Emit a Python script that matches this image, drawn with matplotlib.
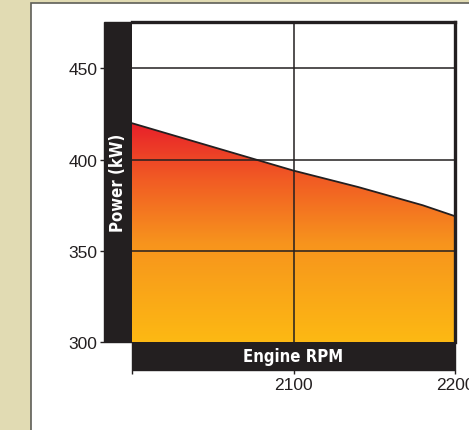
#!/usr/bin/env python3
import matplotlib
matplotlib.use("Agg")
import matplotlib.pyplot as plt
import numpy as np
from matplotlib.colors import LinearSegmentedColormap
from matplotlib.patches import Rectangle

rpm = [2000, 2025, 2050, 2075, 2100, 2120, 2140, 2160, 2180, 2200]
power = [420, 413.5, 407, 400.5, 394, 389.5, 385, 380, 375, 369]
y_ticks = [300, 350, 400, 450]
x_ticks = [2000, 2100, 2200]
x_ticklabels = ["", "2100", "2200"]

DARK = "#231f20"
W, H = 469, 431
PX = 72 / 100  # points per pixel


def figbox(x0, y0, x1, y1):
    # pixel box (from top-left) -> figure fraction [left, bottom, width, height]
    return [x0 / W, 1 - y1 / H, (x1 - x0) / W, (y1 - y0) / H]


fig = plt.figure(figsize=(W / 100, H / 100), dpi=100)
fig.patch.set_facecolor("#e1dbb3")

# white panel
fig.patches.append(Rectangle((31 / W, -0.01), 1, 1.01 - 4 / H, transform=fig.transFigure,
                             facecolor="white", edgecolor="#5f5f58", lw=1.2, zorder=-10))

# black label bars
fig.patches.append(Rectangle((104 / W, 1 - 343 / H), 28 / W, 320 / H,
                             transform=fig.transFigure, color=DARK, zorder=-5))
fig.patches.append(Rectangle((132 / W, 1 - 371 / H), 323 / W, 28 / H,
                             transform=fig.transFigure, color=DARK, zorder=-5))

ax = fig.add_axes(figbox(132, 23, 455, 343))
ax.set_facecolor("white")

# gradient fill under the curve
cmap = LinearSegmentedColormap.from_list(
    "heat", [(0.0, "#fdb913"), (0.45, "#f7941d"), (0.75, "#f15a24"), (1.0, "#e8202a")])
grad = np.linspace(0, 1, 256).reshape(-1, 1)
poly = ax.fill_between(rpm, power, 300, color="none", lw=0)
img = ax.imshow(grad, cmap=cmap, origin="lower", aspect="auto",
                extent=[2000, 2200, 300, max(power)], zorder=1)
img.set_clip_path(poly.get_paths()[0], transform=ax.transData)
ax.plot(rpm, power, color=DARK, lw=1.3, zorder=3)
ax.set_xlim(2000, 2200)
ax.set_ylim(300, 475.5)

# grid
for v in [350, 400, 450]:
    ax.axhline(v, color=DARK, lw=1.1, zorder=4)
ax.axvline(2100, color=DARK, lw=1.1, zorder=4)

for s in ["left", "bottom"]:
    ax.spines[s].set_visible(False)
    ax.spines[s].set_position(("outward", 28 * PX))
for s in ["top", "right"]:
    ax.spines[s].set_color(DARK)
    ax.spines[s].set_linewidth(2.4)
    ax.spines[s].set_zorder(5)

ax.set_yticks(y_ticks)
ax.set_xticks(x_ticks)
ax.set_xticklabels(x_ticklabels)
ax.tick_params(axis="both", length=4 * PX, width=1.0, color=DARK,
               labelcolor=DARK, labelsize=12.5, pad=2)
for lab in ax.get_xticklabels() + ax.get_yticklabels():
    lab.set_family(["Liberation Sans", "DejaVu Sans"])

fig.text(118 / W, 1 - 183 / H, "Power (kW)", rotation=90, color="white",
         fontsize=12, fontweight="bold", fontstretch="condensed",
         ha="center", va="center", family="DejaVu Sans", zorder=6)
fig.text(293.5 / W, 1 - 357 / H, "Engine RPM", color="white",
         fontsize=12, fontweight="bold", fontstretch="condensed",
         ha="center", va="center", family="DejaVu Sans", zorder=6)

fig.savefig("out.png", dpi=100)
